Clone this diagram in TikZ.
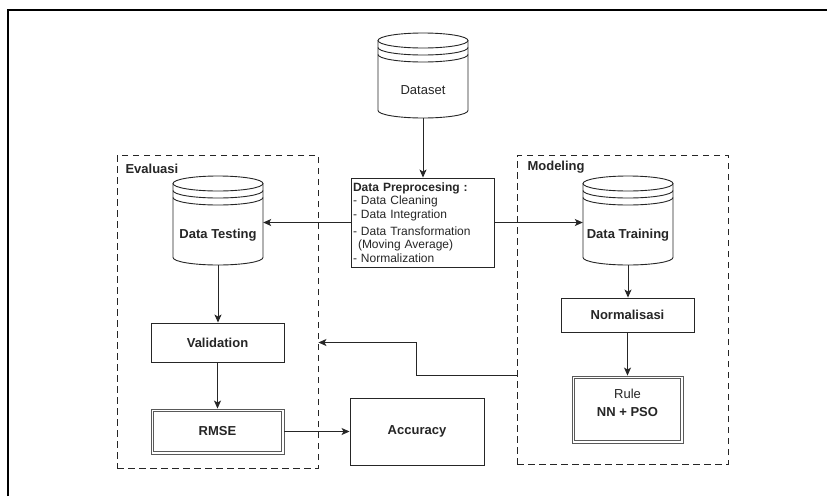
\documentclass[tikz,border=0pt]{standalone}
\usepackage{fontspec}
\setmainfont{Liberation Sans}
\usetikzlibrary{arrows.meta,calc}
\tikzset{
  every node/.style={font=\fontsize{13}{15}\selectfont, text=black!85},
  box/.style={draw=black!85, line width=0.9pt, inner sep=0},
  dbox/.style={draw=black!65, line width=0.9pt, inner sep=0},
  dline/.style={draw=black!65, line width=0.9pt},
  grp/.style={draw=black!85, line width=0.9pt, dash pattern=on 6.5pt off 4.5pt, inner sep=0},
  arr/.style={draw=black!85, line width=0.9pt, -{Stealth[length=8pt,width=7pt,inset=2pt]}},
  cyl/.style={draw=black!85, line width=0.9pt},
  grplabel/.style={anchor=west, font=\fontsize{13}{15}\selectfont\bfseries},
}
% name, cx, top, bottom, half width
\newcommand\dbshape[5]{%
  \node[inner sep=0, minimum width={2*#5pt}, minimum height={(#4-#3)*1pt}] (#1) at (#2,{(#3+#4)/2}) {};
  \draw[cyl] ({#2-#5},{#3+7.5}) -- ({#2-#5},{#4-7.5})
     arc[start angle=180,end angle=360,x radius=#5pt,y radius=7.5pt] -- ({#2+#5},{#3+7.5});
  \draw[cyl] (#2,{#3+7.5}) ellipse[x radius=#5pt, y radius=7.5pt];
  \draw[cyl] ({#2-#5},{#3+14.5}) arc[start angle=180,end angle=360,x radius=#5pt,y radius=7.5pt];
  \draw[cyl] ({#2-#5},{#3+21.5}) arc[start angle=180,end angle=360,x radius=#5pt,y radius=7.5pt];
}
\begin{document}
\begin{tikzpicture}[x=1pt,y=-1pt]
\useasboundingbox[fill=white] (0,0) rectangle (827,496);
% outer frame (cropped)
\draw[line width=1.3pt] (8,496) -- (8,10) -- (827,10);

% group boxes
\node[grp, minimum width=201pt, minimum height=313pt] (evalbox) at (217.5,311.5) {};
\node[grp, minimum width=211pt, minimum height=309pt] (modelbox) at (622.5,309.5) {};
\node[grplabel] (evallabel) at (122,169) {Evaluasi};
\node[grplabel] (modellabel) at (524,167) {Modeling};

% cylinders
\dbshape{dataset}{423}{33}{118}{45}
\node (datasett) at (423,90) {Dataset};
\dbshape{test}{218}{176}{265}{45}
\node[font=\fontsize{13}{15}\selectfont\bfseries] (testt) at (218,235) {Data Testing};
\dbshape{train}{628}{176}{265}{45}
\node[font=\fontsize{13}{15}\selectfont\bfseries] (traint) at (628,235) {Data Training};

% preprocessing
\node[box, align=left, text width=140pt, inner xsep=1.5pt, minimum height=89pt,
      font=\fontsize{12}{13.5}\selectfont] (prep) at (423,222.5)
  {\textbf{Data Preprocesing :}\\
   - Data Cleaning\\
   - Data Integration\\[3.5pt]
   - Data Transformation\\
   \hspace*{5pt}(Moving Average)\\
   - Normalization};

% evaluation side
\node[box, minimum width=133pt, minimum height=39pt, font=\fontsize{13}{15}\selectfont\bfseries] (valid) at (217.5,342.5) {Validation};
\node[dbox, minimum width=133pt, minimum height=45pt, font=\fontsize{13}{15}\selectfont\bfseries] (rmse) at (217.5,431.5) {RMSE};
\draw[dline] ([shift={(3.2,3.2)}]rmse.north west) rectangle ([shift={(-3.2,-3.2)}]rmse.south east);
\node[box, minimum width=134pt, minimum height=67pt, font=\fontsize{13}{15}\selectfont\bfseries] (acc) at (417,431.5) {Accuracy};

% modeling side
\node[box, minimum width=133pt, minimum height=34pt, font=\fontsize{13}{15}\selectfont\bfseries] (norm) at (627.5,315) {Normalisasi};
\node[dbox, minimum width=111pt, minimum height=67pt] (rule) at (627.5,409.5) {};
\draw[dline] ([shift={(3.2,3.2)}]rule.north west) rectangle ([shift={(-3.2,-3.2)}]rule.south east);
\node[align=center] (rulet) at (627.5,403) {Rule\\[3pt]\textbf{NN + PSO}};

% connectors
\draw[arr] (dataset.south) -- (prep.north);
\draw[arr] (prep.west) -- (prep.west -| test.east);
\draw[arr] (prep.east) -- (prep.east -| train.west);
\draw[arr] (test.south) -- (test.south |- valid.north);
\draw[arr] (valid.south) -- (rmse.north);
\draw[arr] (rmse.east) -- (acc.west);
\draw[arr] (train.south) -- (train.south |- norm.north);
\draw[arr] (norm.south) -- (rule.north);
\coordinate (fb) at (416,375);
\draw[arr] (modelbox.west |- fb) -- (fb) -- (fb |- valid) -- (valid -| evalbox.east);
\end{tikzpicture}
\end{document}
